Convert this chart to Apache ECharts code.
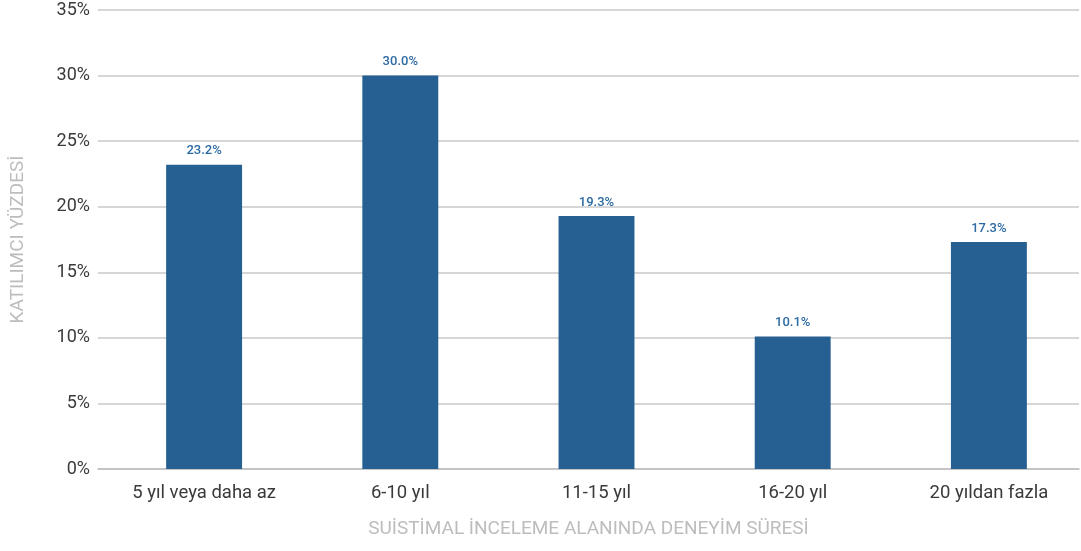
<!DOCTYPE html>
<html><head><meta charset="utf-8">
<script src="https://cdn.jsdelivr.net/npm/echarts@6/dist/echarts.min.js"></script>
<style>html,body{margin:0;padding:0;background:#fff}#c{width:1081px;height:551px}</style>
</head><body><div id="c"></div>
<script>
const categories = ['5 yıl veya daha az','6-10 yıl','11-15 yıl','16-20 yıl','20 yıldan fazla'];
const values = [23.2, 30.0, 19.3, 10.1, 17.3];
const yTicks = [0,5,10,15,20,25,30,35];
const chart = echarts.init(document.getElementById('c'));
const yMin = yTicks[0], yMax = yTicks[yTicks.length-1];
chart.setOption({
  animation:false,
  grid:[
    {left:98,right:2,top:10,bottom:82,containLabel:false,outerBoundsMode:'none'},
    {left:106,right:-6,top:10,bottom:82,containLabel:false,outerBoundsMode:'none'}
  ],
  xAxis:[
    {gridIndex:0,type:'category',data:categories,
     name:'SUİSTİMAL İNCELEME ALANINDA DENEYİM SÜRESİ',nameLocation:'middle',nameGap:51,
     nameTextStyle:{color:'#bdbdbd',fontSize:19,fontFamily:'Roboto'},
     axisLine:{lineStyle:{color:'#bfbfbf',width:1.5}},axisTick:{show:false},
     axisLabel:{show:false}},
    {gridIndex:1,type:'category',data:categories,
     axisLine:{show:false},axisTick:{show:false},
     axisLabel:{color:'#3a3a3a',fontSize:18.5,fontFamily:'Roboto',margin:15}}
  ],
  yAxis:[
    {gridIndex:0,type:'value',min:yMin,max:yMax,interval:5,
     name:'KATILIMCI YÜZDESİ',nameLocation:'middle',nameGap:70,nameRotate:90,
     nameTextStyle:{color:'#bdbdbd',fontSize:19,fontFamily:'Roboto'},
     axisLine:{show:false},axisTick:{show:false},
     axisLabel:{color:'#3a3a3a',fontSize:18,fontFamily:'Roboto',margin:8,formatter:v=>v+'%'},
     splitLine:{lineStyle:{color:'#c8c8c8',width:1.5}}},
    {gridIndex:1,type:'value',min:yMin,max:yMax,interval:5,show:false,splitLine:{show:false}}
  ],
  series:[{type:'bar',xAxisIndex:1,yAxisIndex:1,data:values,barWidth:'38.7%',itemStyle:{color:'#265f91'},
    label:{show:true,position:'top',distance:7,color:'#2c6aa3',fontSize:13,fontWeight:500,
      fontFamily:'Roboto',formatter:p=>p.value.toFixed(1)+'%'}}]
});
</script></body></html>
